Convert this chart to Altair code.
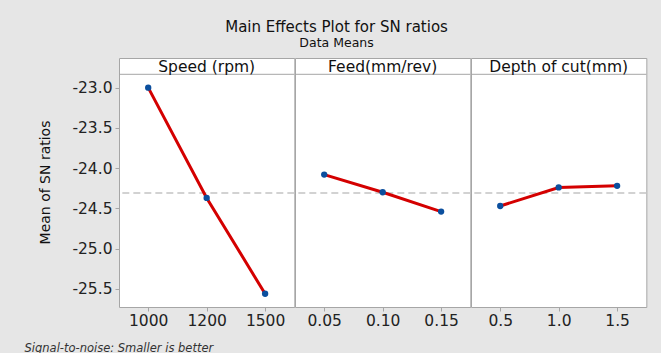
import altair as alt
import pandas as pd

# ---- data ----
factors = ["Speed (rpm)", "Feed(mm/rev)", "Depth of cut(mm)"]
speed_levels = ["1000", "1200", "1500"]
feed_levels = ["0.05", "0.10", "0.15"]
depth_levels = ["0.5", "1.0", "1.5"]
speed_sn = [-23.00, -24.37, -25.56]
feed_sn = [-24.08, -24.30, -24.54]
depth_sn = [-24.47, -24.24, -24.22]

y_ticks = [-23.0, -23.5, -24.0, -24.5, -25.0, -25.5]
# the upper part of the domain is the area occupied by the panel strip
y_domain = [-25.725, -22.632]

levels = [speed_levels, feed_levels, depth_levels]
values = [speed_sn, feed_sn, depth_sn]

rows = []
for f, lv, vs in zip(factors, levels, values):
    for l, v in zip(lv, vs):
        rows.append({"factor": f, "level": l, "sn": v})
df = pd.DataFrame(rows)

FONT = "DejaVu Sans"
PANEL_W = 175.33
STRIP_H = 16.3
PANEL_H = 249
GRID = "#a6a6a6"
LINE_RED = "#d40000"
DOT_BLUE = "#0b4f9e"

y_scale = alt.Scale(domain=y_domain, nice=False, zero=False)


def y_axis(show):
    if not show:
        return None
    return alt.Axis(
        values=y_ticks,
        labelExpr="replace(format(datum.value, '.1f'), '\u2212', '-')",
        title="Mean of SN ratios",
        titleFont=FONT, titleFontSize=14, titleFontWeight="normal", titleColor="#111",
        titlePadding=19, titleY=124,
        labelFont=FONT, labelFontSize=15.5, labelColor="#222", labelPadding=3,
        domain=False, grid=False, tickColor=GRID, tickSize=4,
    )


def x_axis(first):
    kw = dict(
        labelAngle=0, labelFont=FONT, labelFontSize=15.5, labelColor="#222",
        labelPadding=2, domain=False, grid=False, tickColor=GRID, tickSize=4,
    )
    if first:
        kw.update(
            title="Signal-to-noise: Smaller is better",
            titleFont=FONT, titleFontSize=11.5, titleFontStyle="italic",
            titleFontWeight="normal", titleColor="#333",
            titleAnchor="start", titleAlign="left", titleBaseline="alphabetic",
            titleX=-95, titleY=44,
        )
    else:
        kw.update(title=None)
    return alt.Axis(**kw)


def panel(i):
    sub = df[df["factor"] == factors[i]]
    show = i == 0
    x = alt.X("level:N", sort=levels[i],
              scale=alt.Scale(type="point", padding=0.5), axis=x_axis(show))
    rule = alt.Chart(df).mark_rule(
        color="#c4c4c4", strokeDash=[7, 4], strokeWidth=1.5
    ).encode(y=alt.Y("mean(sn):Q", scale=y_scale, axis=y_axis(show)))
    line = alt.Chart(sub).mark_line(color=LINE_RED, strokeWidth=3).encode(
        x=x, y=alt.Y("sn:Q", scale=y_scale, axis=y_axis(show))
    )
    pts = alt.Chart(sub).mark_circle(color=DOT_BLUE, size=40, opacity=1).encode(
        x=x, y=alt.Y("sn:Q", scale=y_scale, axis=y_axis(show))
    )
    strip_line = alt.Chart(pd.DataFrame({"label": [factors[i]]})).mark_rule(
        color=GRID, strokeWidth=1
    ).encode(x=alt.value(0), x2=alt.value(PANEL_W), y=alt.value(STRIP_H))
    strip_text = alt.Chart(pd.DataFrame({"label": [factors[i]]})).mark_text(
        font=FONT, fontSize=15.5, color="#111", baseline="middle", align="center"
    ).encode(text="label:N", x=alt.value(PANEL_W / 2), y=alt.value(STRIP_H / 2 + 0.5))
    return alt.layer(rule, line, pts, strip_line, strip_text).properties(
        width=PANEL_W, height=PANEL_H
    )


chart = alt.hconcat(*[panel(i) for i in range(3)], spacing=0, bounds="flush").properties(
    title=alt.Title(
        "Main Effects Plot for SN ratios",
        subtitle="Data Means",
        font=FONT, fontSize=15, fontWeight="normal", color="#111",
        subtitleFont=FONT, subtitleFontSize=12.5, subtitleColor="#111",
        anchor="middle", offset=8, dx=1, subtitlePadding=2,
    ),
    background="#e6e6e6",
    padding={"left": 23, "top": 20, "right": 13, "bottom": 2},
).configure_view(
    stroke=GRID, strokeWidth=1, fill="white"
)

chart.save("out.html", embed_options={"renderer": "svg", "actions": False})
